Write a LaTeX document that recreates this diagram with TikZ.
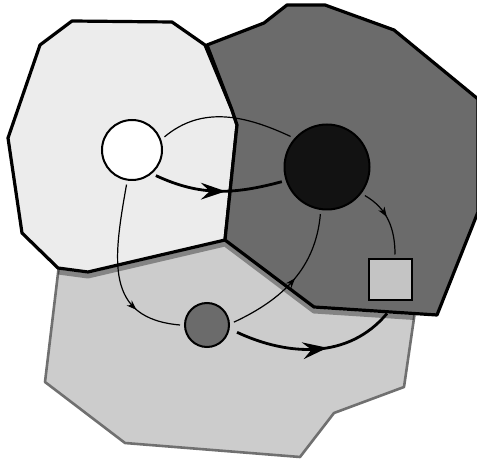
\documentclass[tikz,border=0pt]{standalone}
\usepackage{xcolor}
\usepackage{tikz}
\usetikzlibrary{arrows.meta, decorations.markings}

\definecolor{paleregion}{gray}{0.925}
\definecolor{darkregion}{gray}{0.42}
\definecolor{midregion}{gray}{0.80}
\definecolor{midedge}{gray}{0.44}
\definecolor{hubfill}{gray}{0.07}
\definecolor{boxfill}{gray}{0.77}

\begin{document}
\begin{tikzpicture}[
    x=1pt, y=1pt,
    region/.style={draw=black, line width=3.2pt, line join=round},
    place/.style={draw, circle, line width=2pt, inner sep=0pt, outer sep=5pt},
    thinline/.style={line width=1.2pt},
    thinflow/.style={line width=1.2pt, postaction={decorate},
        decoration={markings, mark=at position #1 with
            {\fill (3pt,0pt) -- (-7pt,3.6pt) -- (-4pt,0pt) -- (-7pt,-3.6pt) -- cycle;}}},
    thickflow/.style={line width=2.8pt, postaction={decorate},
        decoration={markings, mark=at position #1 with
            {\fill (5pt,0pt) -- (-20pt,8.5pt) -- (-11pt,0pt) -- (-20pt,-8.5pt) -- cycle;}}}
]
\useasboundingbox (0,0) rectangle (477,461);

% Regions
\draw[fill=midregion, draw=midedge, line width=2.6pt, line join=round]
    (62,221) -- (225,261) -- (421,191) -- (404,74) -- (334,48) -- (300,4)
    -- (125,18) -- (45,79) -- cycle;

% Shadows on the lower region
\begin{scope}
\clip (62,221) -- (225,261) -- (421,191) -- (404,74) -- (334,48) -- (300,4)
    -- (125,18) -- (45,79) -- cycle;
\draw[black, opacity=0.35, line width=5pt, line join=round]
    (58,189) -- (88,185) -- (225,217) -- (314,150) -- (437,142);
\end{scope}

\draw[region, fill=paleregion]
    (72,440) -- (172,439) -- (205,416) -- (232,351) -- (237,336) -- (225,221)
    -- (88,189) -- (58,193) -- (22,228) -- (8,323) -- (40,416) -- cycle;

\draw[region, fill=darkregion]
    (207,416) -- (264,438) -- (287,456) -- (325,456) -- (394,431) -- (478,362)
    -- (478,249) -- (437,146) -- (314,154) -- (225,221) -- (237,336)
    -- (232,351) -- cycle;

% Places
\node[place, fill=white, minimum size=60pt] (src) at (132,311) {};
\node[place, fill=hubfill, minimum size=85pt] (hub) at (327,294) {};
\node[place, fill=darkregion, minimum size=44pt] (mid) at (207,136) {};
\node[draw, rectangle, fill=boxfill, line width=2pt, inner sep=0pt, outer sep=5pt,
    minimum width=43pt, minimum height=41pt] (dst) at (390,181) {};

% Flows
\draw[thinline] (src.22) to[out=40, in=155] (hub.140);
\draw[thickflow=0.52] (src.-47) to[out=-25, in=195] (hub.198);
\draw[thinflow=0.72] (src.-99) to[out=-100, in=175, looseness=1.3] (mid.180);
\draw[thinflow=0.5] (mid.6) to[out=25, in=-95] (hub.-98);
\draw[thinflow=0.4] (hub.-37) to[out=-30, in=90] ([xshift=5pt]dst.north);
\draw[thickflow=0.55, shorten <=4pt] (mid.-12) to[out=-25, in=-130] ([xshift=-3pt,yshift=-8pt]dst.south);

\end{tikzpicture}
\end{document}
